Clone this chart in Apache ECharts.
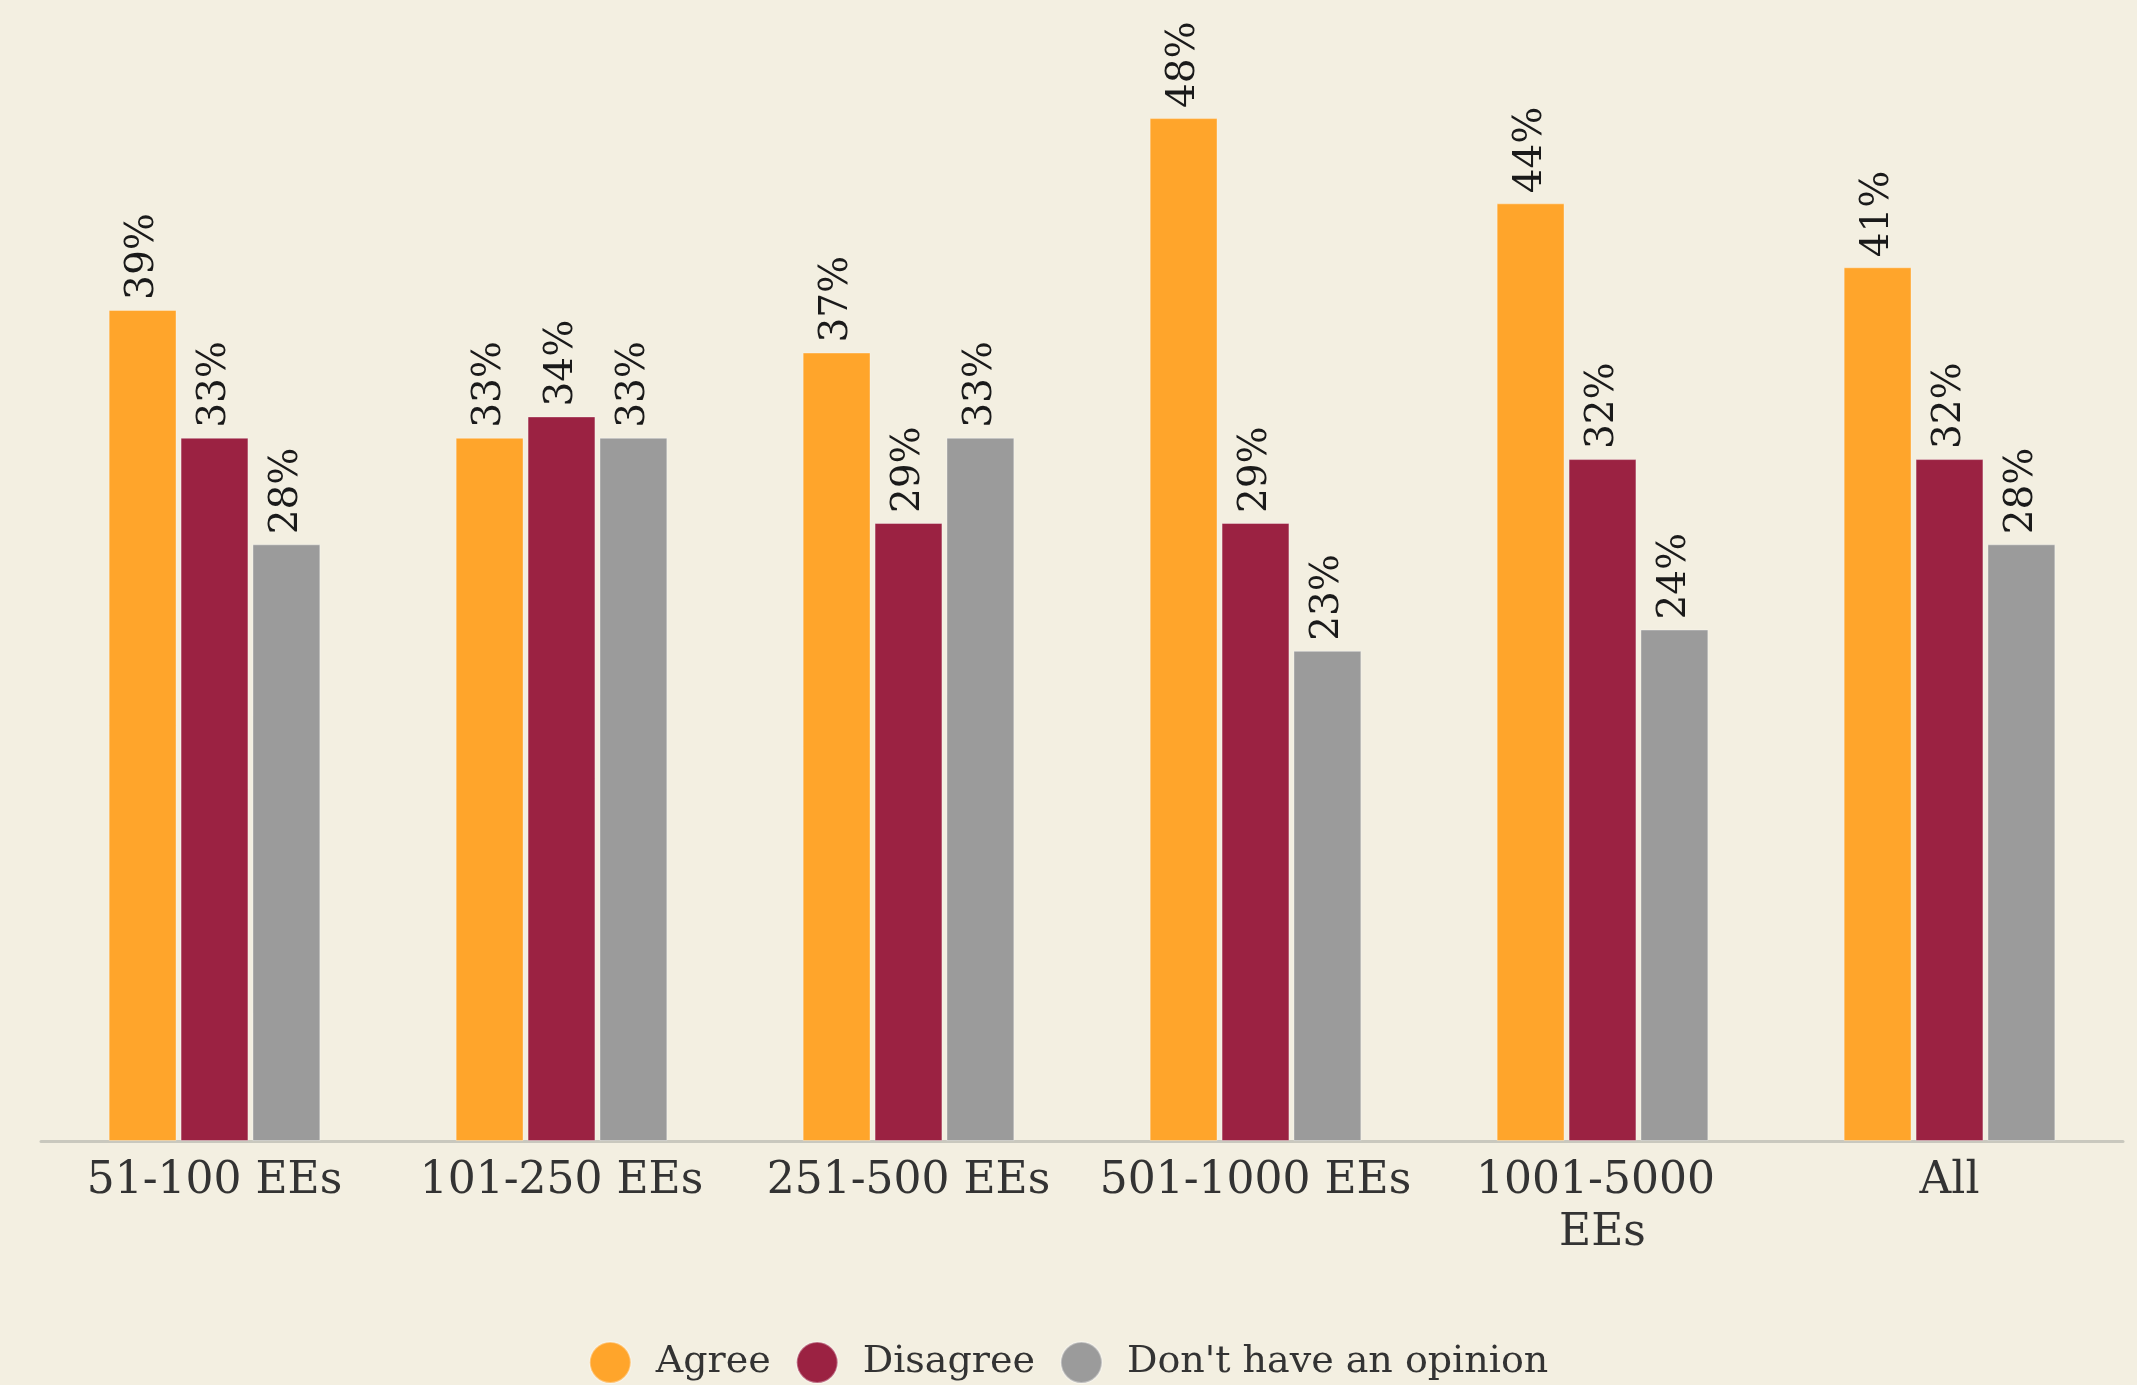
<!DOCTYPE html>
<html>
<head>
<meta charset="utf-8">
<title>Agreement by company size</title>
<script src="https://cdn.jsdelivr.net/npm/echarts@6/dist/echarts.min.js"></script>
<style>
  html, body { margin: 0; padding: 0; background: #F3EFE1; }
  #chart { width: 2137px; height: 1385px; }
</style>
</head>
<body>
<div id="chart"></div>
<script>
// Company-size groups on the x axis
const categories = ['51-100 EEs', '101-250 EEs', '251-500 EEs', '501-1000 EEs', '1001-5000 EEs', 'All'];

// Share of respondents (%) per answer
const agree = [39, 33, 37, 48, 44, 41];
const disagree = [33, 34, 29, 29, 32, 32];
const noOpinion = [28, 33, 33, 23, 24, 28];

const seriesNames = ['Agree', 'Disagree', "Don't have an opinion"];
const seriesColors = ['#FFA52B', '#9B2242', '#9B9B9B'];

const FONT = '"DejaVu Serif", Georgia, serif';

const chart = echarts.init(document.getElementById('chart'), null, { renderer: 'canvas' });

function barSeries(name, data, color) {
  return {
    name: name,
    type: 'bar',
    data: data,
    barGap: '6%',
    barCategoryGap: '39%',
    itemStyle: {
      color: color,
      borderColor: 'rgba(255,255,255,0.35)',
      borderWidth: 1
    },
    label: {
      show: true,
      position: 'top',
      rotate: 90,
      align: 'left',
      verticalAlign: 'middle',
      distance: 10,
      formatter: '{c}%',
      color: '#1a1a1a',
      fontFamily: FONT,
      fontSize: 39
    },
    emphasis: { disabled: true }
  };
}

chart.setOption({
  backgroundColor: '#F3EFE1',
  animation: false,
  grid: { left: 41, right: 14, top: 75.5, bottom: 244, containLabel: false },
  xAxis: {
    type: 'category',
    data: categories,
    axisLine: { show: true, lineStyle: { color: '#C9C8BE', width: 3 } },
    axisTick: { show: false },
    axisLabel: {
      color: '#333333',
      fontFamily: FONT,
      fontSize: 44,
      lineHeight: 52,
      margin: 15,
      width: 325,
      overflow: 'break',
      interval: 0
    }
  },
  yAxis: {
    type: 'value',
    min: 0,
    max: 50,
    show: false,
    splitLine: { show: false }
  },
  legend: {
    data: seriesNames,
    bottom: -4,
    left: 'center',
    icon: 'circle',
    itemWidth: 81,
    itemHeight: 41,
    itemGap: 25,
    textStyle: { color: '#333333', fontFamily: FONT, fontSize: 38 }
  },
  series: [
    barSeries(seriesNames[0], agree, seriesColors[0]),
    barSeries(seriesNames[1], disagree, seriesColors[1]),
    barSeries(seriesNames[2], noOpinion, seriesColors[2])
  ]
});
</script>
</body>
</html>
